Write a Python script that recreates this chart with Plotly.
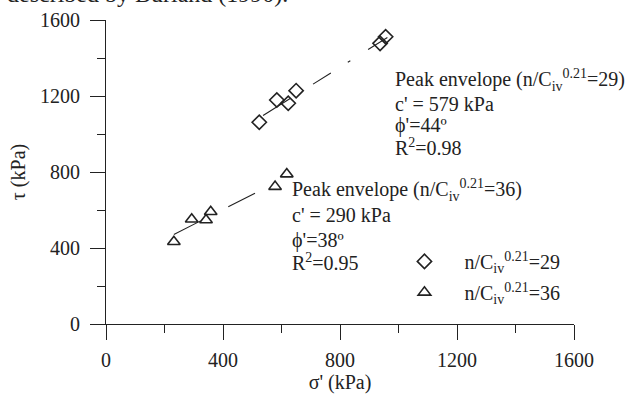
import numpy as np
import plotly.graph_objects as go

# Peak strength data, n/Civ^0.21 = 29
sigma_29 = [524, 584, 623, 650, 937, 956]
tau_29 = [1062, 1179, 1162, 1228, 1477, 1512]

# Peak strength data, n/Civ^0.21 = 36
sigma_36 = [232, 293, 342, 358, 578, 618]
tau_36 = [433, 551, 547, 591, 723, 789]

# Fitted Mohr-Coulomb envelopes: cohesion (kPa), friction angle (deg), R^2
c_29, phi_29, r2_29 = 579, 44, 0.98
c_36, phi_36, r2_36 = 290, 38, 0.95
env_sigma_29 = [537, 962]
env_sigma_36 = [232, 515]

x_ticks = [0, 400, 800, 1200, 1600]
y_ticks = [0, 400, 800, 1200, 1600]

FONT = "'Liberation Serif', 'Times New Roman', serif"
INK = "#222222"


def envelope(c, phi, sig):
    s = np.array(sig, dtype=float)
    return s, c + np.tan(np.radians(phi)) * s


fig = go.Figure()

s29, t29 = envelope(c_29, phi_29, env_sigma_29)
s36, t36 = envelope(c_36, phi_36, env_sigma_36)

fig.add_trace(go.Scatter(
    x=s29, y=t29, mode="lines", showlegend=False, hoverinfo="skip",
    line=dict(color=INK, width=1.1, dash="32px,27px,21px,20px,3px,21px,30px,10px"),
))
fig.add_trace(go.Scatter(
    x=s36, y=t36, mode="lines", showlegend=False, hoverinfo="skip",
    line=dict(color=INK, width=1.1, dash="30px,31px"),
))

fig.add_trace(go.Scatter(
    x=sigma_29, y=tau_29, mode="markers",
    name="n/C<sub>iv</sub><sup>0.21</sup>=29", legendgroup="a",
    marker=dict(symbol="diamond-open", size=11, color=INK, line=dict(width=1.6)),
))
fig.add_trace(go.Scatter(
    x=sigma_36, y=tau_36, mode="markers",
    name="n/C<sub>iv</sub><sup>0.21</sup>=36", legendgroup="b",
    marker=dict(symbol="triangle-up-open", size=11, color=INK, line=dict(width=1.6)),
))

axis_common = dict(
    range=[0, 1600], showgrid=False, zeroline=False, automargin=False,
    showline=True, linecolor=INK, linewidth=1,
    ticks="outside", ticklen=15, tickwidth=1, tickcolor=INK,
    minor=dict(ticks="outside", ticklen=8, dtick=200, tickcolor=INK, tickwidth=1, showgrid=False),
    tickfont=dict(family=FONT, size=20, color=INK),
)

fig.update_xaxes(**axis_common, tickvals=x_ticks,
                 title=dict(text="σ' (kPa)", font=dict(family=FONT, size=20, color=INK), standoff=6),
                 ticklabelstandoff=3)
fig.update_yaxes(**axis_common, tickvals=y_ticks,
                 title=dict(text="τ (kPa)", font=dict(family=FONT, size=20, color=INK), standoff=9),
                 ticklabelstandoff=6)

ann_font = dict(family=FONT, size=20, color=INK)
block_29 = [
    "Peak envelope (n/C<sub>iv</sub><sup>0.21</sup>=29)",
    f"c' = {c_29} kPa",
    f"ϕ'={phi_29}º",
    f"R<sup>2</sup>={r2_29:.2f}",
]
block_36 = [
    "Peak envelope (n/C<sub>iv</sub><sup>0.21</sup>=36)",
    f"c' = {c_36} kPa",
    f"ϕ'={phi_36}º",
    f"R<sup>2</sup>={r2_36:.2f}",
]
ys_29 = [1284, 1158, 1047, 932]
ys_36 = [705, 574, 442, 325]
for txt, yv in zip(block_29, ys_29):
    fig.add_annotation(x=981, y=yv, text=txt, showarrow=False, xanchor="left",
                       yanchor="middle", font=ann_font)
for txt, yv in zip(block_36, ys_36):
    fig.add_annotation(x=629, y=yv, text=txt, showarrow=False, xanchor="left",
                       yanchor="middle", font=ann_font)

# sentence fragment from the surrounding page
fig.add_annotation(xref="paper", yref="paper", x=-0.216, y=1.084, xanchor="left",
                   yanchor="middle", text="described by Burland (1990).", showarrow=False,
                   font=dict(family=FONT, size=24, color=INK))

fig.update_layout(
    width=625, height=394,
    margin=dict(l=106, r=51, t=20, b=70),
    paper_bgcolor="white", plot_bgcolor="white",
    font=dict(family=FONT, size=20, color=INK),
    legend=dict(x=0.595, y=0.155, xanchor="left", yanchor="middle",
                bgcolor="rgba(0,0,0,0)", font=dict(family=FONT, size=20, color=INK),
                itemwidth=70, tracegroupgap=2, traceorder="grouped"),
)

fig.write_html("out.html")
